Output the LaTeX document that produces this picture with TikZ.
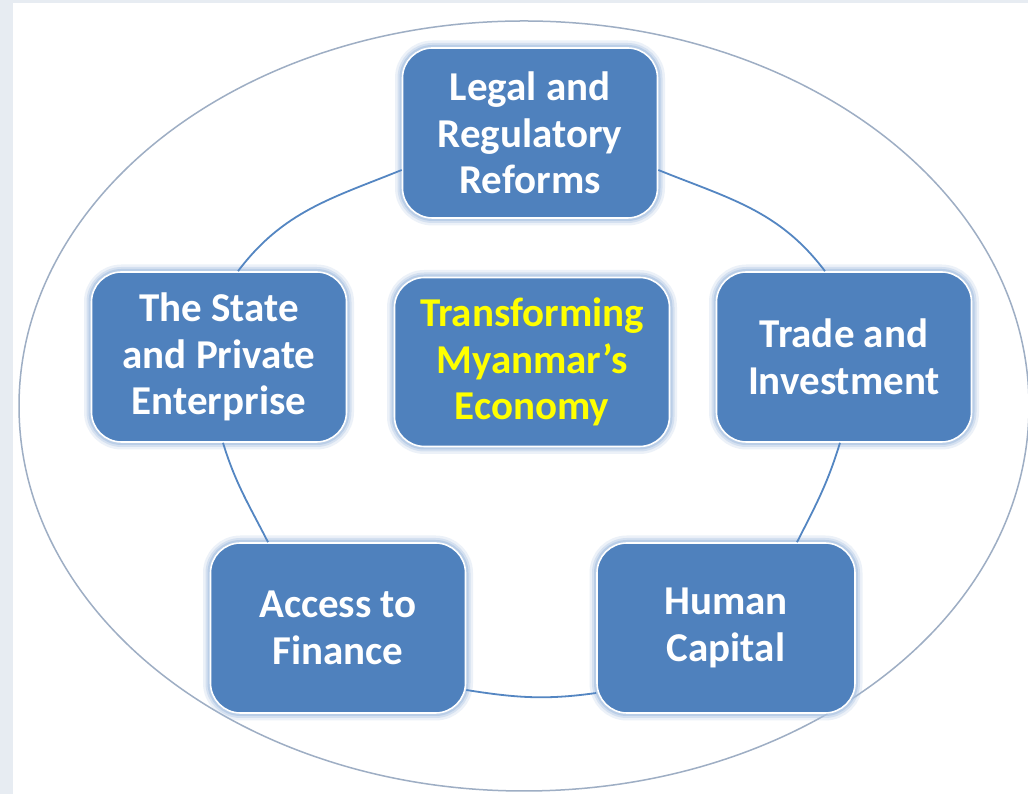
\documentclass[tikz,border=0pt]{standalone}
\usepackage{fontspec}
\setmainfont{Carlito}

\definecolor{boxblue}{HTML}{4F81BD}
\definecolor{glowblue}{HTML}{A9C2E2}
\definecolor{ringblue}{HTML}{5486C2}
\definecolor{outerline}{HTML}{9EAEC4}
\definecolor{stripbg}{HTML}{E7ECF2}
\definecolor{titleyellow}{HTML}{FFFF00}

\tikzset{
  pillar/.style={
    rounded corners=30pt, fill=boxblue, draw=white, line width=1.6pt,
    minimum width=255pt, minimum height=170pt, inner sep=0pt,
    text=white, align=center,
    font=\fontsize{41}{46.5}\selectfont\bfseries,
    preaction={draw=glowblue, line width=15pt, opacity=0.22},
    preaction={draw=glowblue, line width=10pt, opacity=0.35},
    preaction={draw=glowblue, line width=6pt, opacity=0.6},
  },
  ring/.style={draw=ringblue, line width=1.8pt},
}

\begin{document}
\begin{tikzpicture}[x=1pt, y=1pt]
  \useasboundingbox (0,0) rectangle (1028,794);
  % page backdrop with its pale frame on the left and top
  \fill[stripbg] (0,0) rectangle (1028,794);
  \fill[white] (13,0) rectangle (1028,791);

  % outer ellipse enclosing the cycle
  \draw[outerline, line width=1.5pt] (524,388) ellipse [x radius=505, y radius=385];

  % the five pillars and the centre
  \node[pillar] (legal)  at (530,661) {Legal and\\Regulatory\\Reforms};
  \node[pillar] (state)  at (219,437) {The State\\and Private\\Enterprise};
  \node[pillar] (trade)  at (844,437) {Trade and\\Investment};
  \node[pillar] (access) at (338,166) {Access to\\Finance};
  \node[pillar, minimum width=258pt] (human) at (726,166) {Human\\Capital};
  \node[pillar, minimum width=275pt, minimum height=169pt, text=titleyellow]
       (core) at (532,432) {Transforming\\Myanmar’s\\Economy};

  % ring segments joining neighbouring pillars
  \draw[ring] ([yshift=-37pt]legal.west) to[out=202, in=53] ([xshift=19pt]state.north);
  \draw[ring] ([yshift=-37pt]legal.east) to[out=-22, in=127] ([xshift=-19pt]trade.north);
  \draw[ring] ([xshift=4pt]state.south) to[out=-73, in=117] ([xshift=-70pt]access.north);
  \draw[ring] ([xshift=-4pt]trade.south) to[out=253, in=63] ([xshift=71pt]human.north);
  \draw[ring] ([yshift=-62pt]access.east) to[out=-9, in=188] ([yshift=-65pt]human.west);
\end{tikzpicture}
\end{document}
